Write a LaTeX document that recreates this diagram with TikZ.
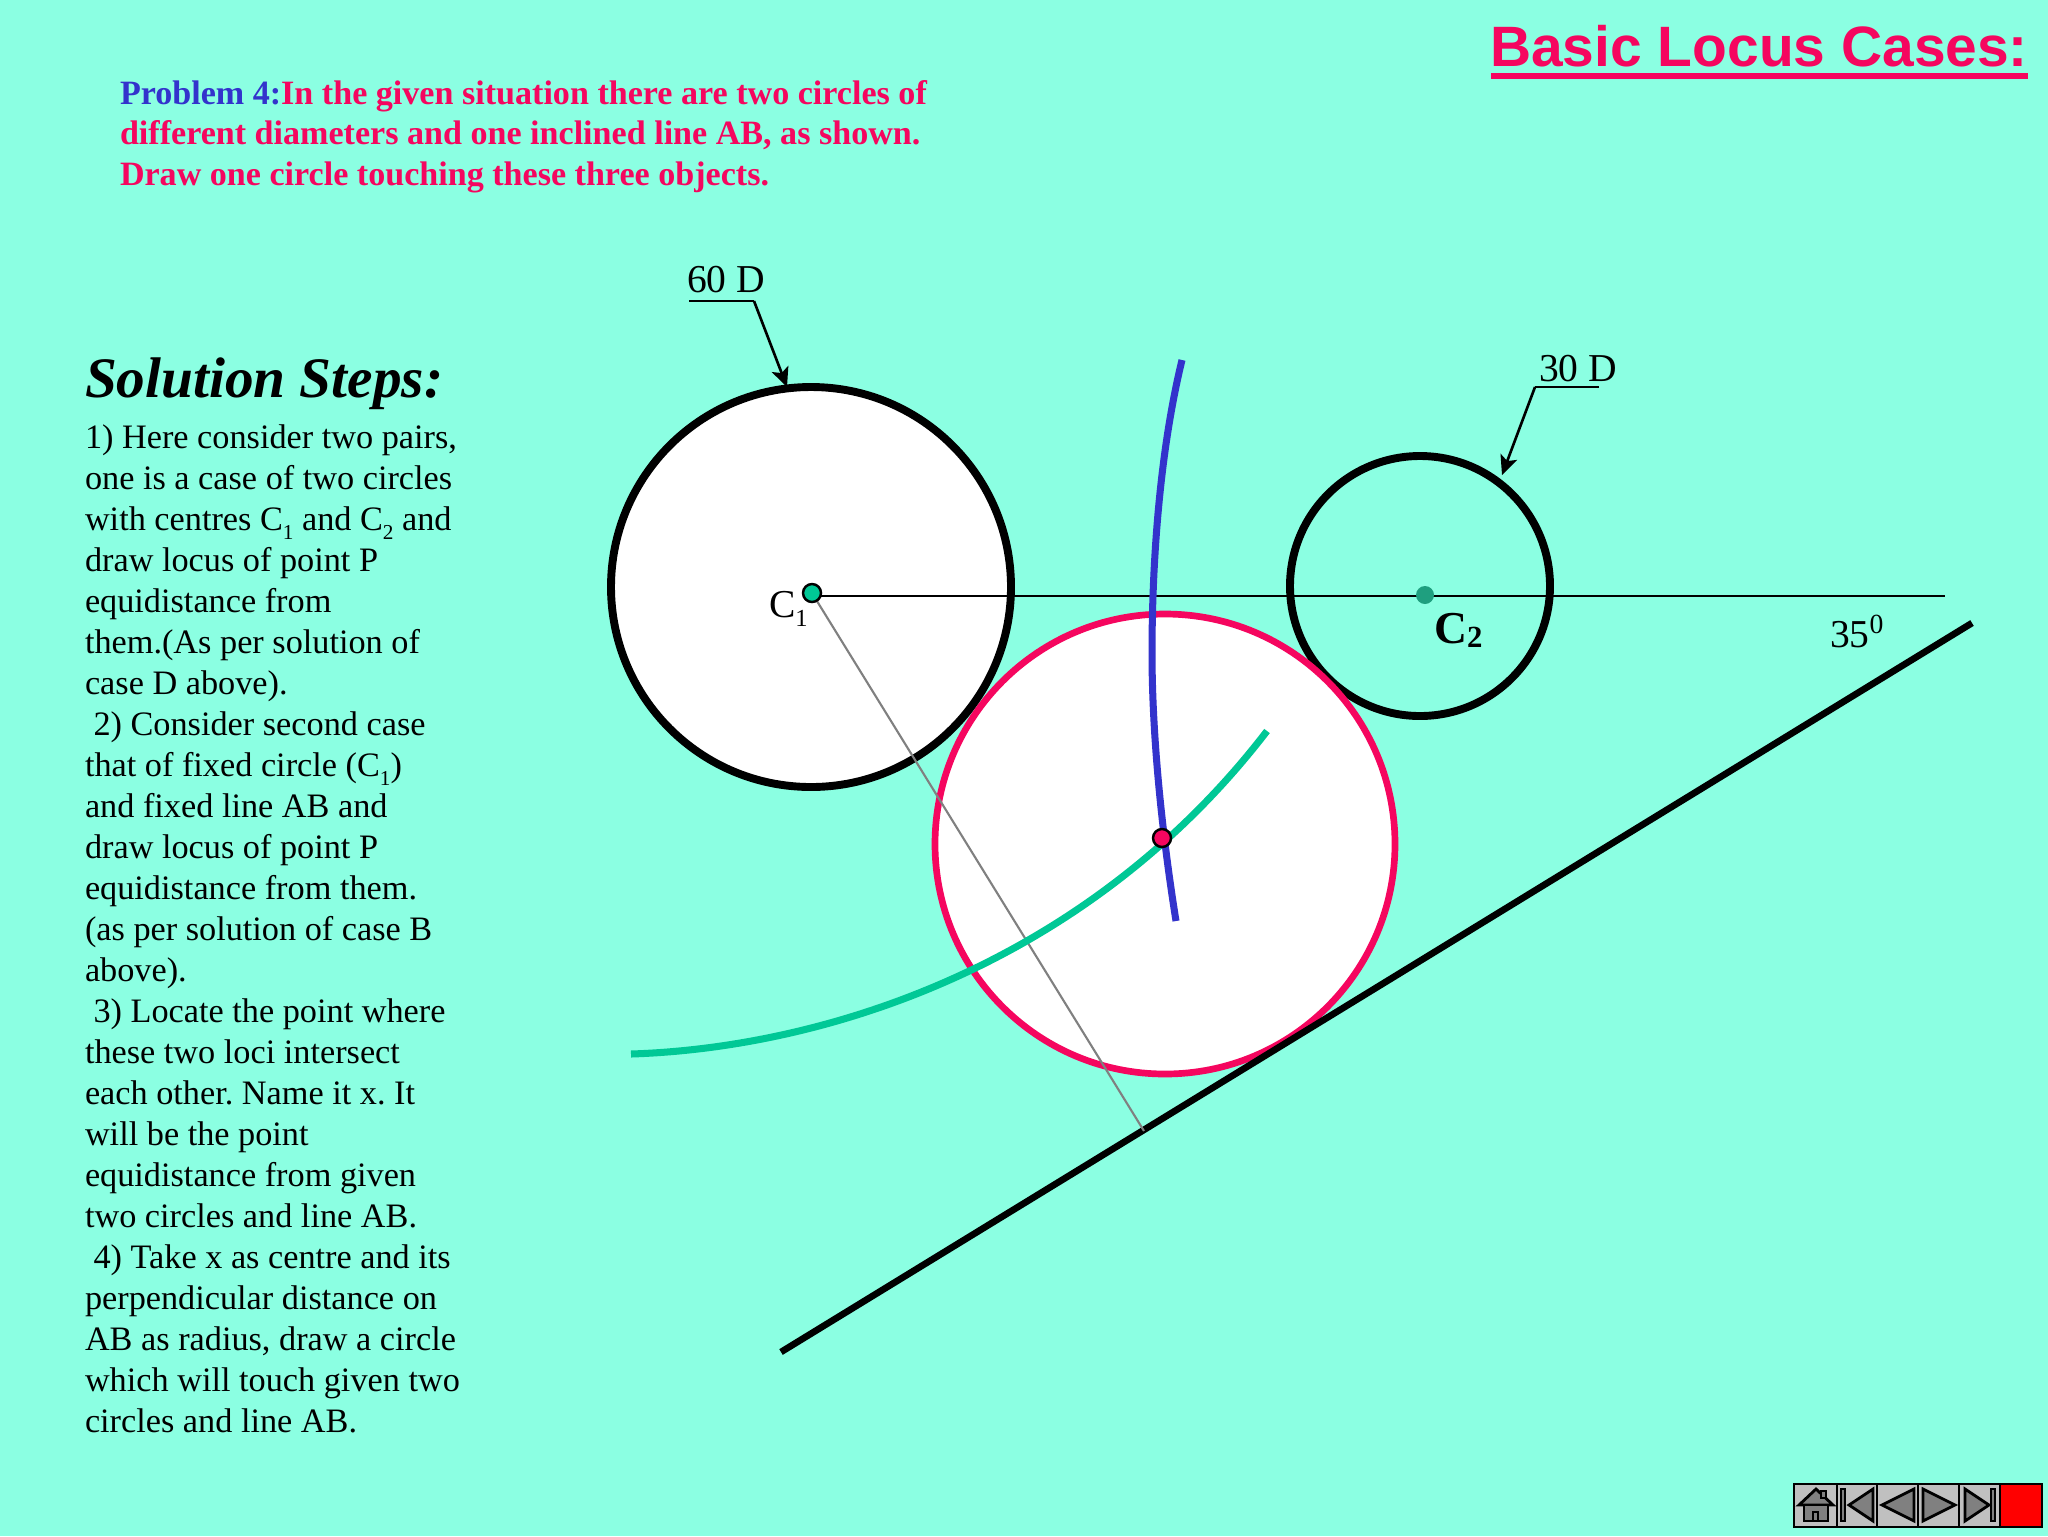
\documentclass[tikz,border=0pt]{standalone}
\usepackage{fontspec}
\setmainfont{Liberation Serif}
\newfontfamily\arialf{Liberation Sans}
\usetikzlibrary{arrows.meta}
\frenchspacing
\definecolor{bgc}{HTML}{8BFFE2}
\definecolor{pinkc}{HTML}{F5065F}
\definecolor{bluec}{HTML}{3333CC}
\definecolor{greenc}{HTML}{00C896}
\definecolor{darkdot}{HTML}{1F9F7F}
\definecolor{btn}{HTML}{C0C0C0}
\definecolor{btnd}{HTML}{808080}
\newcommand{\lowsub}[1]{\raisebox{-0.25em}{\fontsize{0.62em}{1em}\selectfont #1}}
\tikzset{
  x=0.02cm,y=-0.02cm,
  bodytext/.style={inner sep=0,outer sep=0,align=left,anchor=north west,font=\fontsize{19.5}{23.32}\selectfont},
  labeltext/.style={inner sep=0,outer sep=0,font=\fontsize{22.5}{26}\selectfont},
  blackcircle/.style={line width=4.5pt,draw=black},
  locus/.style={line width=4pt},
  leader/.style={line width=1pt,draw=black},
  ptr/.style={line width=1.5pt,draw=black,-{Stealth[length=11pt,width=10pt,inset=2.5pt]}},
  navbtn/.style={draw=black,fill=btn,line width=1.5pt},
  navfill/.style={draw=black,fill=btnd,line width=1.6pt,line join=miter},
}
\begin{document}
\begin{tikzpicture}
\useasboundingbox (0,0) rectangle (2048,1536);
\fill[bgc] (0,0) rectangle (2048,1536);

% title
\node[inner sep=0,outer sep=0,anchor=base east,text=pinkc,font=\arialf\bfseries\fontsize{32.4}{36}\selectfont] (title) at (2028,66) {Basic Locus Cases:};
\coordinate (ta) at (1491,76); \coordinate (tb) at (2028,76);
\draw[pinkc,line width=3pt] (ta) -- (tb);

% problem
\node[bodytext,font=\bfseries\fontsize{19.4}{23.32}\selectfont,text=pinkc] (prob) at (120,80) {\textcolor{bluec}{Problem 4:}In the given situation there are two circles of\\different diameters and one inclined line AB, as shown.\\Draw one circle touching these three objects.};

% steps
\node[inner sep=0,outer sep=0,anchor=base west,font=\bfseries\itshape\fontsize{32.6}{36}\selectfont] (head) at (85,397) {Solution Steps:};
\node[bodytext] (steps) at (85,425) {1) Here consider two pairs,\\one is a case of two circles\\with centres C\lowsub{1} and C\lowsub{2} and\\draw locus of point P\\equidistance from\\them.(As per solution of\\case D above).\\\ 2) Consider second case\\that of fixed circle (C\lowsub{1})\\and fixed line AB and\\draw locus of point P\\equidistance from them.\\(as per solution of case B\\above).\\\ 3) Locate the point where\\these two loci intersect\\each other. Name it x. It\\will be the point\\equidistance from given\\two circles and line AB.\\\ 4) Take x as centre and its\\perpendicular distance on\\AB as radius, draw a circle\\which will touch given two\\circles and line AB.};

% geometry
\coordinate (c1) at (812,593);
\coordinate (c2) at (1425,595);
\coordinate (x) at (1162,838);
\coordinate (foot) at (1144,1131);
\coordinate (ha) at (812,596);
\coordinate (hb) at (1945,596);
\coordinate (la) at (781,1352);
\coordinate (lb) at (1972,623);

\draw[blackcircle,fill=white] (811,587) circle[radius=200];
\draw[blackcircle] (1420,586) circle[radius=130];
\draw[line width=3.8pt,draw=pinkc,fill=white] (1165,844) circle[radius=230];
\draw[line width=0.9pt,draw=black] (ha) -- (hb);
\draw[line width=3.8pt,draw=black] (la) -- (lb);
\draw[line width=1.2pt,draw=black!50] (c1) -- (foot);

% loci
\draw[locus,bluec] (1182,360) .. controls (1160,450) and (1152,560) .. (1152,653) .. controls (1152,740) and (1163,840) .. (1176,921);
\draw[locus,greenc] (631,1054) .. controls (820,1048) and (1085,968) .. (1267,731);

% points
\fill[darkdot] (c2) circle[radius=9];
\draw[fill=greenc,draw=black,line width=1.4pt] (c1) circle[radius=9];
\draw[fill=pinkc,draw=black,line width=1.4pt] (x) circle[radius=9];

% labels
\node[labeltext,anchor=base west] (lc1) at (769,617) {C\lowsub{1}};
\node[labeltext,anchor=base west,font=\bfseries\fontsize{26}{30}\selectfont] (lc2) at (1434,643) {C\raisebox{-0.1em}{\fontsize{17.5}{20}\selectfont 2}};
\node[labeltext,anchor=base west] (ang) at (1830,647) {35\textsuperscript{0}};
\node[labeltext,anchor=base west] (d60) at (687,292) {60 D};
\node[labeltext,anchor=base west] (d30) at (1539,381) {30 D};

% leaders
\coordinate (l1a) at (689,301); \coordinate (l1b) at (754,301); \coordinate (l1c) at (787,387);
\draw[leader] (l1a) -- (l1b);
\draw[ptr] (l1b) -- (l1c);
\coordinate (l2a) at (1599,387); \coordinate (l2b) at (1535,387); \coordinate (l2c) at (1502,475);
\draw[leader] (l2a) -- (l2b);
\draw[ptr] (l2b) -- (l2c);

% navigation
\draw[navbtn] (1794,1484) rectangle (1837,1527);
\draw[navbtn] (1837,1484) rectangle (1877,1527);
\draw[navbtn] (1877,1484) rectangle (1918,1527);
\draw[navbtn] (1918,1484) rectangle (1959,1527);
\draw[navbtn] (1959,1484) rectangle (2000,1527);
\draw[draw=black,fill=red,line width=1.5pt] (2000,1484) rectangle (2042,1527);
% home
\draw[navfill] (1799,1505) -- (1816,1489) -- (1833,1505) -- cycle;
\draw[navfill] (1804,1505) rectangle (1828,1521);
\draw[navfill] (1813,1512) rectangle (1818,1521);
\draw[navfill] (1821,1491) rectangle (1826,1498);
% first
\draw[navfill] (1841,1489) rectangle (1845,1521);
\draw[navfill] (1849,1505) -- (1873,1489) -- (1873,1521) -- cycle;
% prev
\draw[navfill] (1882,1505) -- (1914,1489) -- (1914,1521) -- cycle;
% next
\draw[navfill] (1923,1489) -- (1955,1505) -- (1923,1521) -- cycle;
% last
\draw[navfill] (1965,1489) -- (1989,1505) -- (1965,1521) -- cycle;
\draw[navfill] (1991,1489) rectangle (1995,1521);
\end{tikzpicture}
\end{document}
